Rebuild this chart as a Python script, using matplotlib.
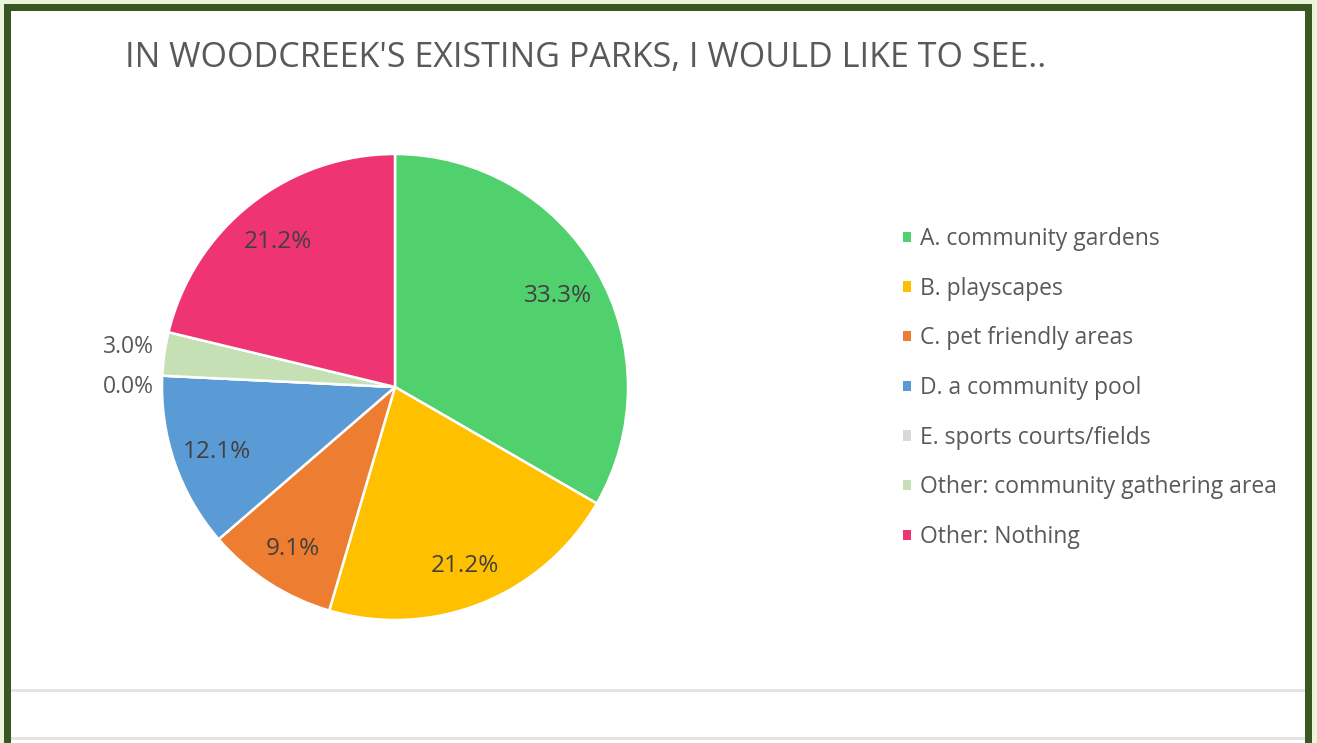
import matplotlib.pyplot as plt
from matplotlib.patches import Rectangle, Patch
import numpy as np

plt.rcParams['font.family'] = ['Open Sans', 'DejaVu Sans']

# data
categories = ['A. community gardens', 'B. playscapes', 'C. pet friendly areas',
              'D. a community pool', 'E. sports courts/fields',
              'Other: community gathering area', 'Other: Nothing']
shares = [33.3, 21.2, 9.1, 12.1, 0.0, 3.0, 21.2]
colors = ['#51D16D', '#FFC000', '#ED7D31', '#5B9BD5', '#D9D9D9', '#C5E0B4', '#EE3472']
title = "IN WOODCREEK'S EXISTING PARKS, I WOULD LIKE TO SEE.."

W, H = 1317, 743
fig = plt.figure(figsize=(W / 100, H / 100), dpi=100)
fig.patch.set_facecolor('white')

# page frame: pale outer edge, dark green border, grey separator lines
fig.patches.append(Rectangle((0, 0), 1, 1, transform=fig.transFigure,
                             facecolor='#EAF5D9', edgecolor='none', zorder=0))
fig.patches.append(Rectangle((11 / W, 0), (1305 - 11) / W, (H - 11) / H,
                             transform=fig.transFigure, facecolor='white',
                             edgecolor='none', zorder=0.5))
for x0, y0, w, h in [(4, 4, 1308, 7), (4, 4, 7, 739), (1305, 4, 7, 739)]:
    fig.patches.append(Rectangle((x0 / W, 1 - (y0 + h) / H), w / W, h / H,
                                 transform=fig.transFigure, facecolor='#385723',
                                 edgecolor='none', zorder=1))
for yl in [690, 738]:
    fig.patches.append(Rectangle((11 / W, 1 - (yl + 1.5) / H), (1305 - 11) / W, 3 / H,
                                 transform=fig.transFigure, facecolor='#E4E4E4',
                                 edgecolor='none', zorder=1))

fig.text(125 / W, 1 - 58 / H, title, fontsize=24.5, color='#595959',
         ha='left', va='center')

# pie
cx, cy, R = 395, 387, 233
ax = fig.add_axes([(cx - R) / W, 1 - (cy + R) / H, 2 * R / W, 2 * R / H])
ax.set_zorder(2)
wedges, _ = ax.pie(shares, colors=colors, startangle=90, counterclock=False,
                   radius=1, wedgeprops=dict(edgecolor='white', linewidth=1.8))
ax.set_xlim(-1, 1)
ax.set_ylim(-1, 1)
ax.axis('off')

nudge = {4: -0.048, 5: 0.028}
for i, (w, v) in enumerate(zip(wedges, shares)):
    ang = np.deg2rad((w.theta1 + w.theta2) / 2)
    txt = f'{v:.1f}%'
    if v < 5:
        ax.text(-1.035, np.sin(ang) + nudge.get(i, 0), txt, ha='right', va='center',
                fontsize=16.5, color='#595959', clip_on=False)
    else:
        r = 0.81
        ax.text(r * np.cos(ang), r * np.sin(ang) - 0.015, txt, ha='center', va='center',
                fontsize=17.5, color='#404040')

handles = [Patch(facecolor=c, edgecolor='none') for c in colors]
leg = fig.legend(handles, categories, loc='upper left',
                 bbox_to_anchor=(903 / W, 1 - 227 / H), frameon=False,
                 fontsize=16.5, labelcolor='#595959', handlelength=0.33,
                 handleheight=0.33, handletextpad=0.42, labelspacing=1.12,
                 borderpad=0, borderaxespad=0)
leg.set_zorder(3)

fig.savefig('out.png', dpi=100)
